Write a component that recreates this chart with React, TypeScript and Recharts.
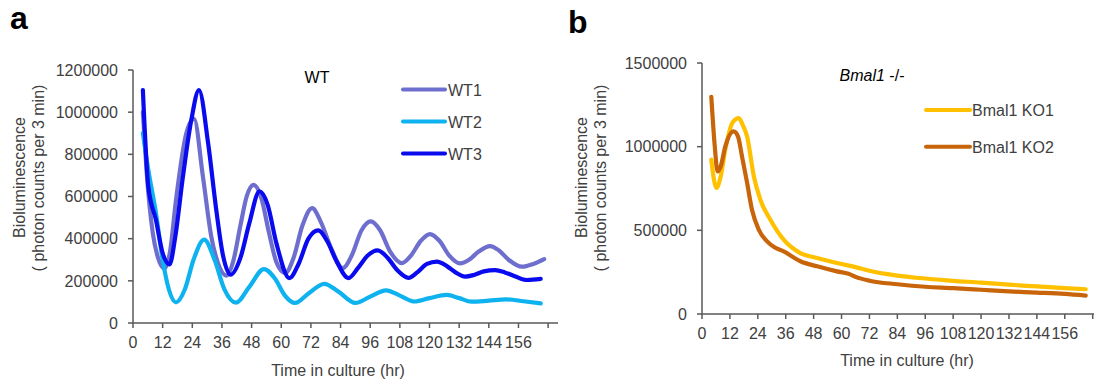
import { LineChart, Line, XAxis, YAxis } from 'recharts'

const hourTicks = [0, 12, 24, 36, 48, 60, 72, 84, 96, 108, 120, 132, 144, 156, 168]
const wtYTicks = [0, 200000, 400000, 600000, 800000, 1000000, 1200000]
const koYTicks = [0, 500000, 1000000, 1500000]

const wt1Hours = [4, 5.5, 8, 10, 12.7, 15, 17.4, 21.6, 24.7, 28.3, 31.7, 34.4, 37.8, 40.5, 43.4, 46, 48.8, 52, 55, 58, 61.6, 65, 68.5, 72.5, 76, 80, 84.9, 88.5, 92.5, 96.2, 100, 104, 108.8, 112.5, 116.5, 120.2, 124, 128, 132.4, 136, 140, 144.5, 148, 152, 157.4, 162, 166.4]
const wt1Values = [1000000, 720000, 427000, 314000, 258000, 340000, 583000, 901000, 968000, 694000, 409000, 284000, 225000, 290000, 458000, 600000, 655000, 590000, 430000, 290000, 237000, 310000, 460000, 545000, 480000, 360000, 260000, 320000, 440000, 482000, 440000, 340000, 284000, 320000, 390000, 422000, 390000, 320000, 283000, 300000, 340000, 365000, 345000, 300000, 267000, 280000, 303000]

const wt2Hours = [4, 6.2, 9.3, 12, 14.5, 17.4, 21, 24.5, 28.8, 33, 37, 41.7, 47, 53, 57.5, 61.5, 65.6, 71, 77.4, 83, 90, 96, 102.4, 108, 114, 120, 127, 132, 137, 144, 151, 158, 165]
const wt2Values = [901000, 726000, 520000, 300000, 160000, 98000, 160000, 300000, 395000, 300000, 160000, 97000, 170000, 256000, 210000, 130000, 95000, 140000, 186000, 150000, 95000, 125000, 155000, 130000, 102000, 118000, 133000, 118000, 101000, 106000, 112000, 103000, 93000]

const wt3Hours = [4, 6.2, 9.3, 12, 14.8, 17, 20.2, 23.6, 26.7, 30.4, 33.7, 36.4, 39.5, 43.5, 47, 51.2, 54.5, 58, 63.3, 67, 71, 75, 78.5, 82.5, 87.2, 91, 95, 99, 103, 107, 111.5, 115, 119, 123, 127, 130.5, 134.4, 138, 142, 146.6, 150.5, 154.5, 159.4, 165]
const wt3Values = [1105000, 647000, 488000, 332000, 278000, 400000, 694000, 963000, 1105000, 853000, 536000, 322000, 229000, 310000, 470000, 624000, 560000, 380000, 213000, 280000, 400000, 439000, 390000, 290000, 213000, 260000, 320000, 344000, 310000, 250000, 214000, 240000, 280000, 291000, 270000, 240000, 220000, 228000, 245000, 251000, 240000, 222000, 204000, 209000]

const ko1Hours = [4, 6.2, 8, 10, 13, 15.8, 17.5, 19.4, 22.3, 25.1, 29.4, 35.1, 42.3, 49.5, 58, 66, 72, 84, 96, 108, 120, 132, 144, 156, 165]
const ko1Values = [922000, 753000, 820000, 981000, 1141000, 1171000, 1130000, 1061000, 822000, 683000, 563000, 444000, 364000, 335000, 305000, 280000, 258000, 229000, 212000, 198000, 188000, 175000, 165000, 155000, 148000]

const ko2Hours = [4, 5.5, 6.7, 8, 10, 13.6, 15.5, 17.2, 19.4, 21.5, 24.4, 28, 31, 35.1, 42.3, 49.5, 58, 63, 66, 72, 84, 96, 108, 120, 132, 144, 156, 165]
const ko2Values = [1297000, 1000000, 852000, 880000, 1000000, 1091000, 1060000, 942000, 783000, 623000, 504000, 434000, 400000, 374000, 315000, 285000, 255000, 240000, 222000, 199000, 178000, 163000, 155000, 145000, 135000, 128000, 120000, 110000]

const FONT = '"Liberation Sans", Arial, sans-serif'
const AXIS = '#595959'
const TEXT = '#404040'

const toRows = (hours: number[], values: number[]) => hours.map((h, i) => ({ h, v: values[i] }))

const tickStyle = { fill: TEXT, fontSize: 16, fontFamily: FONT }
const hideLast = (v: number) => (v === 168 ? '' : String(v))

function Panel({ width, height, top, yWidth, yTicks, yMax, series }: {
  width: number
  height: number
  top: number
  yWidth: number
  yTicks: number[]
  yMax: number
  series: { name: string; color: string; rows: { h: number; v: number }[] }[]
}) {
  return (
    <LineChart width={width} height={height} margin={{ top, right: 0, bottom: 0, left: 0 }}>
      <XAxis
        type="number"
        dataKey="h"
        domain={[0, 172]}
        ticks={hourTicks}
        interval={0}
        tickFormatter={hideLast}
        height={40}
        tickSize={5}
        tickMargin={9}
        axisLine={{ stroke: AXIS, strokeWidth: 1.5 }}
        tickLine={{ stroke: AXIS, strokeWidth: 1.5 }}
        tick={tickStyle}
      />
      <YAxis
        type="number"
        domain={[0, yMax]}
        ticks={yTicks}
        interval={0}
        width={yWidth}
        tickSize={5}
        tickMargin={10}
        axisLine={{ stroke: AXIS, strokeWidth: 1.5 }}
        tickLine={{ stroke: AXIS, strokeWidth: 1.5 }}
        tick={tickStyle}
      />
      {series.map(s => (
        <Line
          key={s.name}
          data={s.rows}
          dataKey="v"
          name={s.name}
          type="monotone"
          stroke={s.color}
          strokeWidth={4.2}
          strokeLinecap="round"
          strokeLinejoin="round"
          dot={false}
          activeDot={false}
          isAnimationActive={false}
        />
      ))}
    </LineChart>
  )
}

const wtSeries = [
  { name: 'WT1', color: '#6E6ECF', rows: toRows(wt1Hours, wt1Values) },
  { name: 'WT2', color: '#0DB2EE', rows: toRows(wt2Hours, wt2Values) },
  { name: 'WT3', color: '#0A0AEF', rows: toRows(wt3Hours, wt3Values) },
]
const koSeries = [
  { name: 'Bmal1 KO1', color: '#FFC000', rows: toRows(ko1Hours, ko1Values) },
  { name: 'Bmal1 KO2', color: '#C8640A', rows: toRows(ko2Hours, ko2Values) },
]

export default function App() {
  return (
    <div style={{ position: 'absolute', left: 0, top: 0, width: 1094, height: 385, overflow: 'hidden', background: '#fff', fontFamily: FONT }}>
      <div style={{ position: 'absolute', left: 0, top: 0 }}>
        <Panel width={558} height={363} top={70} yWidth={133} yTicks={wtYTicks} yMax={1200000} series={wtSeries} />
      </div>
      <div style={{ position: 'absolute', left: 560, top: 0 }}>
        <Panel width={542} height={354} top={63} yWidth={142} yTicks={koYTicks} yMax={1500000} series={koSeries} />
      </div>
      <svg width={1094} height={385} style={{ position: 'absolute', left: 0, top: 0, pointerEvents: 'none' }} fontFamily={FONT}>
        <text x={10} y={29} fontSize={32} fontWeight="bold" fill="#000">a</text>
        <text x={568} y={33} fontSize={32} fontWeight="bold" fill="#000">b</text>

        <text x={317} y={83} fontSize={16} fill="#000" textAnchor="middle">WT</text>
        <text x={872} y={81} fontSize={16} fill="#000" textAnchor="middle">
          <tspan fontStyle="italic">Bmal1</tspan> -/-
        </text>

        <text transform="translate(25,177.5) rotate(-90)" fontSize={16} fill={TEXT} textAnchor="middle">Bioluminescence</text>
        <text transform="translate(44,178) rotate(-90)" fontSize={16} fill={TEXT} textAnchor="middle">( photon counts per 3 min)</text>
        <text transform="translate(586.5,177.5) rotate(-90)" fontSize={16} fill={TEXT} textAnchor="middle">Bioluminescence</text>
        <text transform="translate(606,178) rotate(-90)" fontSize={16} fill={TEXT} textAnchor="middle">( photon counts per 3 min)</text>

        <text x={338} y={376} fontSize={16} fill={TEXT} textAnchor="middle">Time  in culture (hr)</text>
        <text x={907} y={365.5} fontSize={16} fill={TEXT} textAnchor="middle">Time  in culture (hr)</text>

        {wtSeries.map((s, i) => (
          <g key={s.name}>
            <line x1={403} x2={445} y1={89.5 + i * 32} y2={89.5 + i * 32} stroke={s.color} strokeWidth={4} strokeLinecap="round" />
            <text x={448} y={95.8 + i * 32} fontSize={16} fill={TEXT}>{s.name}</text>
          </g>
        ))}
        {koSeries.map((s, i) => (
          <g key={s.name}>
            <line x1={926} x2={970} y1={110 + i * 36.7} y2={110 + i * 36.7} stroke={s.color} strokeWidth={4} strokeLinecap="round" />
            <text x={972} y={116 + i * 36.7} fontSize={16} fill={TEXT}>{s.name}</text>
          </g>
        ))}
      </svg>
    </div>
  )
}
